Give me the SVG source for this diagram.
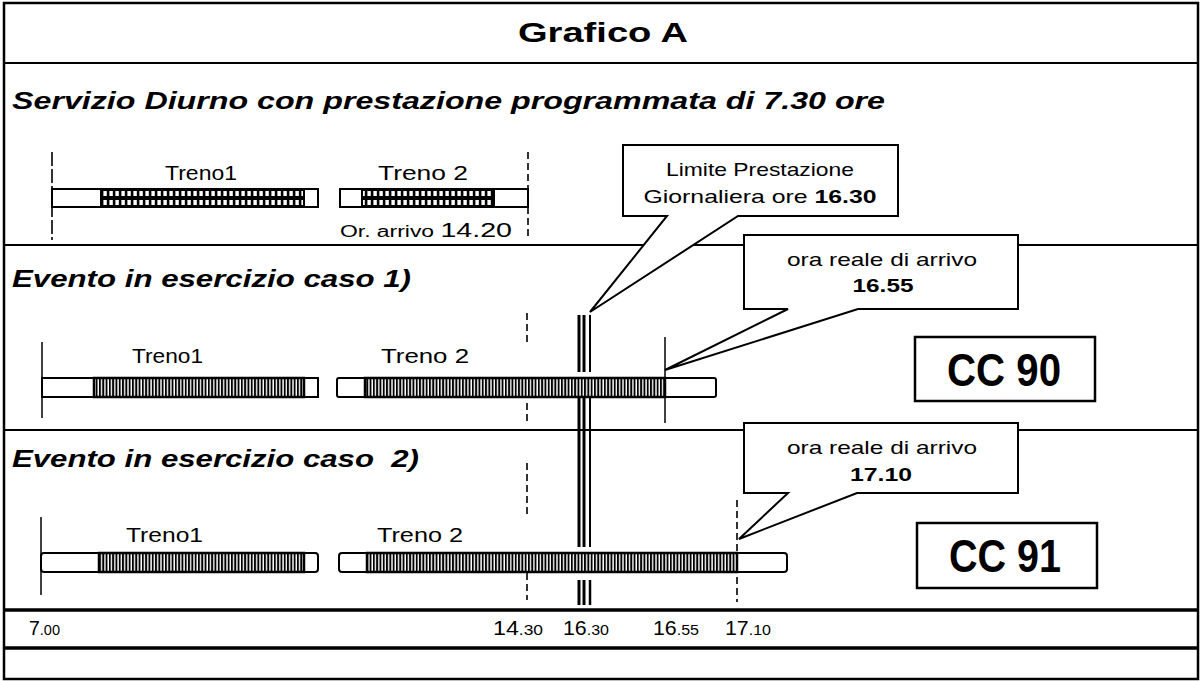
<svg xmlns="http://www.w3.org/2000/svg" width="1204" height="681" viewBox="0 0 1204 681">
<defs>
<pattern id="vh" patternUnits="userSpaceOnUse" x="0" y="0" width="3.3" height="40">
<rect width="3.3" height="40" fill="#fff"/>
<rect width="1.9" height="40" fill="#000"/>
</pattern>
<pattern id="grid" patternUnits="userSpaceOnUse" x="0" y="189" width="6" height="9">
<rect width="6" height="9" fill="#000"/>
<rect x="1.4" y="2" width="3.4" height="5" fill="#fff"/>
</pattern>
<style>
.frame{fill:none;stroke:#000;stroke-width:2.5}
.sep{stroke:#000;stroke-width:2;fill:none}
.axis{stroke:#000;stroke-width:3.5;fill:none}
.bar{fill:#fff;stroke:#000;stroke-width:2}
.hv{fill:url(#vh);stroke:#000;stroke-width:2.5}
.hg{fill:url(#grid);stroke:#000;stroke-width:2}
.dash{stroke:#000;stroke-width:1.6;stroke-dasharray:7 4;fill:none}
.thin{stroke:#000;stroke-width:1.5;fill:none}
.lim{stroke:#000;fill:none}
.callout{fill:#fff;stroke:#000;stroke-width:2;stroke-linejoin:miter}
.box{fill:#fff;stroke:#000;stroke-width:2.5}
text{font-family:"Liberation Sans",Arial,sans-serif;fill:#000}
.title{font-size:28px;font-weight:bold}
.sec{font-size:24px;font-weight:bold;font-style:italic}
.tr{font-size:20px}
.cl{font-size:19px}
.cc{font-size:46px;font-weight:bold}
.b{font-weight:bold}
.ax{font-size:20px}
.axs{font-size:15px}
</style>
</defs>

<!-- frame and separators -->
<g id="frame">
<rect class="frame" x="4" y="3" width="1194" height="676"/>
<line class="sep" x1="4" y1="63" x2="1198" y2="63"/>
<line class="sep" x1="4" y1="245" x2="1198" y2="245"/>
<line class="sep" x1="4" y1="430" x2="1198" y2="430"/>
<line class="axis" x1="4" y1="610" x2="1198" y2="610"/>
<line class="axis" x1="4" y1="648" x2="1198" y2="648"/>
</g>

<g id="title"><text class="title" x="603" y="42" text-anchor="middle" textLength="170" lengthAdjust="spacingAndGlyphs">Grafico A</text></g>
<g id="sec-servizio"><text class="sec" x="12" y="109" textLength="873" lengthAdjust="spacingAndGlyphs">Servizio Diurno con prestazione programmata di 7.30 ore</text></g>
<g id="sec-caso1"><text class="sec" x="12" y="287" textLength="399" lengthAdjust="spacingAndGlyphs">Evento in esercizio caso 1)</text></g>
<g id="sec-caso2"><text class="sec" x="12" y="467" xml:space="preserve" textLength="407" lengthAdjust="spacingAndGlyphs">Evento in esercizio caso  2)</text></g>

<!-- connectors / reference lines -->
<g id="connectors">
<line class="dash" x1="52" y1="152" x2="52" y2="240" style="stroke-dasharray:14 3"/>
<line class="dash" x1="528" y1="152" x2="528" y2="240"/>
<line class="thin" x1="42" y1="342" x2="42" y2="418"/>
<line class="dash" x1="527" y1="313" x2="527" y2="342"/>
<line class="dash" x1="527" y1="403" x2="527" y2="425"/>
<line class="thin" x1="665" y1="337" x2="665" y2="423"/>
<line class="thin" x1="41" y1="517" x2="41" y2="595"/>
<line class="dash" x1="527" y1="463" x2="527" y2="517"/>
<line class="dash" x1="527" y1="573" x2="527" y2="600"/>
<line class="dash" x1="737" y1="500" x2="737" y2="602"/>
<g id="limit-1630">
<line class="lim" x1="579" y1="315" x2="579" y2="372" stroke-width="3"/>
<line class="lim" x1="584" y1="315" x2="584" y2="372" stroke-width="3"/>
<line class="lim" x1="590" y1="315" x2="590" y2="372" stroke-width="2"/>
<line class="lim" x1="579" y1="397" x2="579" y2="547" stroke-width="3"/>
<line class="lim" x1="584" y1="397" x2="584" y2="547" stroke-width="3"/>
<line class="lim" x1="590" y1="397" x2="590" y2="547" stroke-width="2"/>
<line class="lim" x1="579" y1="580" x2="579" y2="605" stroke-width="3"/>
<line class="lim" x1="584" y1="580" x2="584" y2="605" stroke-width="3"/>
<line class="lim" x1="590" y1="580" x2="590" y2="605" stroke-width="2.5"/>
</g>
</g>

<!-- Row 1 -->
<g id="r1-treno1">
<text class="tr" x="165" y="180" textLength="72" lengthAdjust="spacingAndGlyphs">Treno1</text>
<rect class="bar" x="52" y="189" width="266" height="18"/>
<rect class="hg" x="101" y="189" width="203" height="18"/>
</g>
<g id="r1-treno2">
<text class="tr" x="378" y="180" textLength="90" lengthAdjust="spacingAndGlyphs">Treno 2</text>
<rect class="bar" x="340" y="189" width="188" height="18"/>
<rect class="hg" x="362" y="189" width="132" height="18"/>
<text x="340" y="237" textLength="172" lengthAdjust="spacingAndGlyphs"><tspan font-size="16">Or. arrivo </tspan><tspan font-size="20">14.20</tspan></text>
</g>

<!-- Row 2 -->
<g id="r2-treno1">
<text class="tr" x="132" y="363" textLength="71" lengthAdjust="spacingAndGlyphs">Treno1</text>
<rect class="bar" x="42" y="378" width="276" height="19"/>
<rect class="hv" x="94" y="378" width="210" height="19"/>
</g>
<g id="r2-treno2">
<text class="tr" x="381" y="363" textLength="88" lengthAdjust="spacingAndGlyphs">Treno 2</text>
<rect class="bar" x="337" y="378" width="379" height="19" rx="2"/>
<rect class="hv" x="365" y="378" width="300" height="19"/>
</g>

<!-- Row 3 -->
<g id="r3-treno1">
<text class="tr" x="126" y="542" textLength="77" lengthAdjust="spacingAndGlyphs">Treno1</text>
<rect class="bar" x="41" y="553" width="277" height="19" rx="3"/>
<rect class="hv" x="99" y="553" width="205" height="19"/>
</g>
<g id="r3-treno2">
<text class="tr" x="377" y="542" textLength="86" lengthAdjust="spacingAndGlyphs">Treno 2</text>
<rect class="bar" x="339" y="553" width="448" height="19" rx="3"/>
<rect class="hv" x="367" y="553" width="370" height="19"/>
</g>

<!-- Callouts -->
<g id="callout-limite">
<path class="callout" d="M623,145 H898 V216 H738 L590,312 L667,216 H623 Z"/>
<text class="cl" x="760" y="176" text-anchor="middle" textLength="188" lengthAdjust="spacingAndGlyphs">Limite Prestazione</text>
<text class="cl" x="760" y="203" text-anchor="middle" textLength="233" lengthAdjust="spacingAndGlyphs">Giornaliera ore <tspan class="b">16.30</tspan></text>
</g>
<g id="callout-1655">
<path class="callout" d="M744,235 H1018 V309 H858 L665,370 L788,309 H744 Z"/>
<text class="cl" x="882" y="266" text-anchor="middle" textLength="190" lengthAdjust="spacingAndGlyphs">ora reale di arrivo</text>
<text class="cl b" x="883" y="292" text-anchor="middle" textLength="61" lengthAdjust="spacingAndGlyphs">16.55</text>
</g>
<g id="callout-1710">
<path class="callout" d="M744,423 H1018 V493 H857 L739,539 L788,493 H744 Z"/>
<text class="cl" x="882" y="454" text-anchor="middle" textLength="190" lengthAdjust="spacingAndGlyphs">ora reale di arrivo</text>
<text class="cl b" x="881" y="481" text-anchor="middle" textLength="62" lengthAdjust="spacingAndGlyphs">17.10</text>
</g>

<!-- CC boxes -->
<g id="cc90">
<rect class="box" x="915" y="337" width="180" height="64"/>
<text class="cc" x="1004" y="386" text-anchor="middle" textLength="114" lengthAdjust="spacingAndGlyphs">CC 90</text>
</g>
<g id="cc91">
<rect class="box" x="917" y="523" width="180" height="65"/>
<text class="cc" x="1005" y="572" text-anchor="middle" textLength="112" lengthAdjust="spacingAndGlyphs">CC 91</text>
</g>

<!-- Axis labels -->
<g id="axis-labels">
<text x="29" y="635" textLength="31" lengthAdjust="spacingAndGlyphs"><tspan class="ax">7</tspan><tspan class="axs">.00</tspan></text>
<text x="493" y="635" textLength="50" lengthAdjust="spacingAndGlyphs"><tspan class="ax">14</tspan><tspan class="axs">.30</tspan></text>
<text x="563" y="635" textLength="46" lengthAdjust="spacingAndGlyphs"><tspan class="ax">16</tspan><tspan class="axs">.30</tspan></text>
<text x="653" y="635" textLength="46" lengthAdjust="spacingAndGlyphs"><tspan class="ax">16</tspan><tspan class="axs">.55</tspan></text>
<text x="725" y="635" textLength="46" lengthAdjust="spacingAndGlyphs"><tspan class="ax">17</tspan><tspan class="axs">.10</tspan></text>
</g>
</svg>
